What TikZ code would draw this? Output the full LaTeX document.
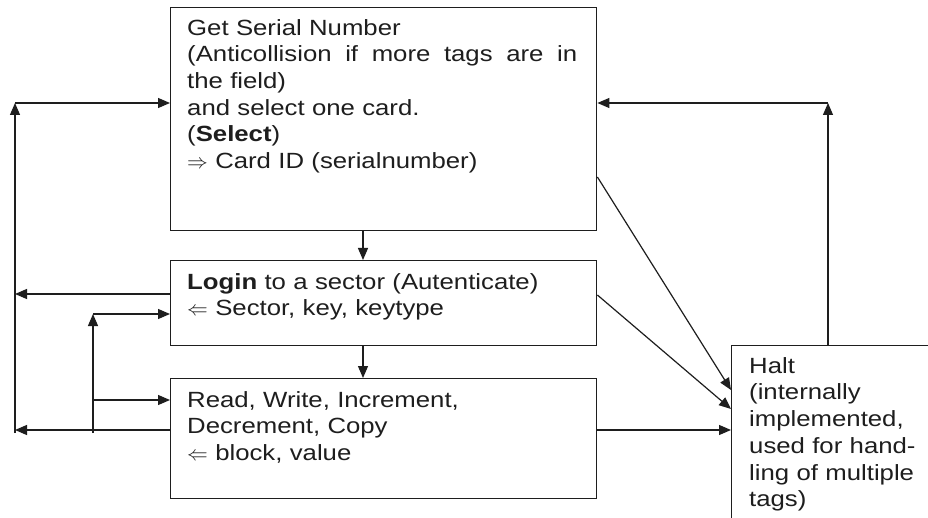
\documentclass[tikz,border=0pt]{standalone}
\usepackage{fontspec}
\setmainfont[FakeStretch=1.17]{Liberation Sans}
\usetikzlibrary{arrows.meta}
\definecolor{ink}{HTML}{1E1E1E}
\begin{document}
\begin{tikzpicture}[x=1pt,y=-1pt,
  box/.style={draw=ink, line width=1.4pt, rectangle, inner sep=0pt, anchor=north west},
  txt/.style={anchor=north west, inner sep=0pt, text=ink, align=left, font=\fontsize{22}{26.7}\selectfont},
  conn/.style={draw=ink, line width=1.2pt, -{Triangle[length=12pt,width=10pt]}}]
\clip (0,0) rectangle (928,518);
\fill[white] (0,0) rectangle (928,518);
% boxes
\node[box, minimum width=426pt, minimum height=223pt] (sel) at (170,7) {};
\node[box, minimum width=426pt, minimum height=85pt] (login) at (170,260) {};
\node[box, minimum width=426pt, minimum height=120pt] (rw) at (170,378) {};
\node[box, minimum width=220pt, minimum height=200pt] (halt) at (731,345) {};
% texts
\node[txt, text width=392pt] (seltext) at (187,17) {\rule{0pt}{18pt}Get Serial Number\\
\makebox[390pt][l]{(Anticollision\hfill if\hfill more\hfill tags\hfill are\hfill in}\\
the field)\\
and select one card.\\
(\textbf{Select})\\
$\Rightarrow$ Card ID (serialnumber)};
\node[txt, text width=392pt] (logintext) at (187,271) {\rule{0pt}{18pt}\textbf{Login} to a sector (Autenticate)\\
$\Leftarrow$ Sector, key, keytype};
\node[txt, text width=392pt] (rwtext) at (187,389) {\rule{0pt}{18pt}Read, Write, Increment,\\
Decrement, Copy\\
$\Leftarrow$ block, value};
\node[txt, text width=175pt] (halttext) at (749,355) {\rule{0pt}{18pt}Halt\\
(internally\\
implemented,\\
used for hand-\\
ling of multiple\\
tags)};
% coordinates
\coordinate (oTop) at (15,103);
\coordinate (oMid) at (15,294);
\coordinate (oBot) at (15,430);
\coordinate (oLow) at (15,433);
\coordinate (iTop) at (93,314);
\coordinate (iMid) at (93,400);
\coordinate (iLow) at (93,433);
\coordinate (rTop) at (828,103);
% vertical flow
\draw[conn] ([xshift=193pt]sel.south west) -- ([xshift=193pt]login.north west);
\draw[conn] ([xshift=193pt]login.south west) -- ([xshift=193pt]rw.north west);
% outer left loop
\draw[conn] ([yshift=-52pt]rw.north west) -- (oBot);
\draw[conn] ([yshift=-34pt]login.north west) -- (oMid);
\draw[conn] (oLow) -- (oTop);
\draw[conn] (oTop) -- ([yshift=-96pt]sel.north west);
% inner left loop
\draw[conn] (iLow) -- (iTop);
\draw[conn] (iTop) -- ([yshift=-54pt]login.north west);
\draw[conn] (iMid) -- ([yshift=-22pt]rw.north west);
% right side
\draw[conn] ([xshift=97pt]halt.north west) -- (rTop);
\draw[conn] (rTop) -- ([yshift=-96pt]sel.north east);
\draw[conn] ([yshift=-170pt]sel.north east) -- ([yshift=-45pt]halt.north west);
\draw[conn] ([yshift=-35pt]login.north east) -- ([yshift=-64pt]halt.north west);
\draw[conn] ([yshift=-52pt]rw.north east) -- ([yshift=-85pt]halt.north west);
\end{tikzpicture}
\end{document}
